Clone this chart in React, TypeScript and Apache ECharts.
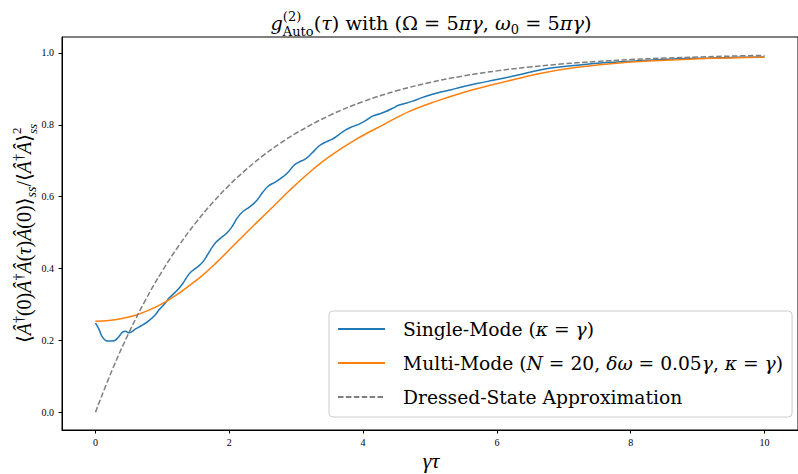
import React, { useEffect, useRef } from 'react';
import * as echarts from 'echarts';

const FONT = '"Liberation Serif", "DejaVu Serif", serif';
const WIDE_FONT = '"DejaVu Serif", "Liberation Serif", serif';

// ---- data ----
const singleTau = [0, 0.05, 0.1, 0.15, 0.2, 0.28, 0.35, 0.4, 0.45, 0.5, 0.55, 0.6, 0.7, 0.8, 0.9, 0.95, 1.05, 1.1, 1.2, 1.3, 1.4, 1.47, 1.55, 1.62, 1.72, 1.8, 1.88, 1.96, 2.04, 2.12, 2.2, 2.3, 2.4, 2.5, 2.58, 2.68, 2.78, 2.88, 2.96, 3.04, 3.14, 3.24, 3.34, 3.44, 3.54, 3.64, 3.74, 3.84, 3.94, 4.04, 4.14, 4.24, 4.34, 4.44, 4.54, 4.64, 4.74, 4.87, 5.0, 5.12, 5.3, 5.47, 5.7, 6.0, 6.3, 6.7, 7.2, 7.7, 8.2, 8.7, 9.2, 9.6, 10];
const singleVals = [0.248, 0.232, 0.21, 0.2, 0.198, 0.199, 0.21, 0.222, 0.225, 0.221, 0.225, 0.232, 0.242, 0.255, 0.272, 0.285, 0.305, 0.318, 0.335, 0.357, 0.385, 0.397, 0.408, 0.422, 0.452, 0.473, 0.486, 0.498, 0.516, 0.541, 0.558, 0.571, 0.587, 0.612, 0.629, 0.64, 0.652, 0.668, 0.686, 0.696, 0.705, 0.722, 0.741, 0.752, 0.76, 0.773, 0.786, 0.795, 0.802, 0.812, 0.824, 0.83, 0.837, 0.846, 0.855, 0.86, 0.866, 0.875, 0.883, 0.889, 0.897, 0.905, 0.915, 0.926, 0.938, 0.955, 0.966, 0.974, 0.979, 0.984, 0.986, 0.988, 0.989];

const multiTau = [0, 0.2, 0.4, 0.6, 0.8, 1.0, 1.2, 1.4, 1.6, 1.8, 2.0, 2.3, 2.6, 2.9, 3.2, 3.5, 3.9, 4.3, 4.7, 5.1, 5.5, 5.9, 6.3, 6.7, 7.2, 7.7, 8.2, 8.7, 9.2, 9.6, 10];
const multiVals = [0.253, 0.255, 0.261, 0.27, 0.284, 0.302, 0.325, 0.352, 0.381, 0.415, 0.452, 0.508, 0.562, 0.617, 0.668, 0.712, 0.76, 0.8, 0.838, 0.866, 0.89, 0.91, 0.928, 0.945, 0.96, 0.97, 0.977, 0.981, 0.985, 0.987, 0.988];

const dressedTau = [0, 0.25, 0.5, 0.75, 1, 1.25, 1.5, 1.75, 2, 2.25, 2.5, 2.75, 3, 3.5, 4, 4.5, 5, 5.5, 6, 6.5, 7, 7.5, 8, 8.5, 9, 9.5, 10];
const dressedVals = [0, 0.1175, 0.2212, 0.3127, 0.3935, 0.4647, 0.5276, 0.5831, 0.6321, 0.6753, 0.7135, 0.7472, 0.7769, 0.8262, 0.8647, 0.8946, 0.9179, 0.9361, 0.9502, 0.9612, 0.9698, 0.9765, 0.9817, 0.9857, 0.9889, 0.9913, 0.9933];

const xTicks = [0, 2, 4, 6, 8, 10];
const yTicks = [0, 0.2, 0.4, 0.6, 0.8, 1.0];

const seriesNames = [
  'Single-Mode (κ = γ)',
  'Multi-Mode (N = 20, δω = 0.05γ, κ = γ)',
  'Dressed-State Approximation',
];
const legendRich: Record<string, string> = {
  [seriesNames[0]]: 'Single-Mode ({i|κ} = {i|γ})',
  [seriesNames[1]]: 'Multi-Mode ({i|N} = 20, {i|δω} = 0.05{i|γ}, {i|κ} = {i|γ})',
  [seriesNames[2]]: 'Dressed-State Approximation',
};

type Seg = { t: string; s: number; dy?: number; it?: boolean; stack?: boolean };

let measureCtx: CanvasRenderingContext2D | null = null;
function textWidth(t: string, size: number, family: string, italic?: boolean) {
  if (!measureCtx) {
    const c = document.createElement('canvas');
    measureCtx = c.getContext('2d');
  }
  if (!measureCtx) return t.length * size * 0.55;
  measureCtx.font = `${italic ? 'italic ' : ''}${size}px ${family}`;
  return measureCtx.measureText(t).width;
}

function layoutMath(segs: Seg[], color: string, family: string) {
  const children: any[] = [];
  let x = 0;
  let prevStart = 0;
  for (const seg of segs) {
    const w = textWidth(seg.t, seg.s, family, seg.it);
    const sx = seg.stack ? prevStart : x;
    children.push({
      type: 'text',
      x: sx,
      y: (seg.dy || 0) - 0.34 * seg.s,
      style: {
        text: seg.t,
        fontSize: seg.s,
        fontFamily: family,
        fontStyle: seg.it ? 'italic' : 'normal',
        fill: color,
        align: 'left',
        verticalAlign: 'middle',
      },
    });
    if (seg.stack) {
      x = Math.max(x, sx + w);
    } else {
      prevStart = sx;
      x = sx + w;
    }
  }
  return { children, width: x };
}

const titleSegs: Seg[] = [
  { t: 'g', s: 19.3, it: true },
  { t: '(2)', s: 13, dy: -9 },
  { t: 'Auto', s: 13, dy: 6, stack: true },
  { t: '(', s: 19.3 },
  { t: 'τ', s: 19.3, it: true },
  { t: ') with (Ω = 5', s: 19.3 },
  { t: 'πγ', s: 19.3, it: true },
  { t: ', ', s: 19.3 },
  { t: 'ω', s: 19.3, it: true },
  { t: '0', s: 13, dy: 4 },
  { t: ' = 5', s: 19.3 },
  { t: 'πγ', s: 19.3, it: true },
  { t: ')', s: 19.3 },
];

const ylabSegs: Seg[] = [
  { t: '⟨', s: 20 },
  { t: 'Â', s: 20, it: true },
  { t: '†', s: 14, dy: -8 },
  { t: '(0)', s: 20 },
  { t: 'Â', s: 20, it: true },
  { t: '†', s: 14, dy: -8 },
  { t: 'Â', s: 20, it: true },
  { t: '(', s: 20 },
  { t: 'τ', s: 20, it: true },
  { t: ')', s: 20 },
  { t: 'Â', s: 20, it: true },
  { t: '(0)', s: 20 },
  { t: '⟩', s: 20 },
  { t: 'ss', s: 14, dy: 5, it: true },
  { t: '/', s: 20 },
  { t: '⟨', s: 20 },
  { t: 'Â', s: 20, it: true },
  { t: '†', s: 14, dy: -8 },
  { t: 'Â', s: 20, it: true },
  { t: '⟩', s: 20 },
  { t: '2', s: 13, dy: -10 },
  { t: 'ss', s: 13, dy: 6, it: true, stack: true },
];

function zip(xs: number[], ys: number[]) {
  return xs.map((x, i) => [x, ys[i]]);
}

export default function App() {
  const ref = useRef<HTMLDivElement>(null);
  useEffect(() => {
    const chart = echarts.init(ref.current!, null, { renderer: 'svg' });
    const title = layoutMath(titleSegs, '#000', WIDE_FONT);
    const ylab = layoutMath(ylabSegs, '#000', FONT);
    const gridLeft = 62;
    const gridTop = 37;
    const gridW = 739;
    const gridH = 393;
    const plotCx = 431;
    const plotCy = gridTop + gridH / 2;

    const option: any = {
      animation: false,
      backgroundColor: '#fff',
      grid: {
        left: gridLeft,
        top: gridTop,
        width: gridW,
        height: gridH,
        show: true,
        borderColor: '#000',
        borderWidth: 1,
        backgroundColor: 'transparent',
      },
      xAxis: {
        type: 'value',
        min: -0.5,
        max: 10.5,
        axisLine: { show: true, onZero: false, lineStyle: { color: '#000', width: 1 } },
        splitLine: { show: false },
        axisTick: { show: true, inside: false, length: 3.5, customValues: xTicks, lineStyle: { color: '#000' } },
        axisLabel: {
          customValues: xTicks,
          formatter: (v: number) => String(Math.round(v)),
          fontFamily: FONT,
          fontSize: 10,
          color: '#000',
          margin: 7,
        },
      },
      yAxis: {
        type: 'value',
        min: -0.0497,
        max: 1.0445,
        axisLine: { show: true, onZero: false, lineStyle: { color: '#000', width: 1 } },
        splitLine: { show: false },
        axisTick: { show: true, inside: false, length: 3.5, customValues: yTicks, lineStyle: { color: '#000' } },
        axisLabel: {
          customValues: yTicks,
          formatter: (v: number) => v.toFixed(1),
          fontFamily: FONT,
          fontSize: 10,
          color: '#000',
          margin: 8,
        },
      },
      legend: {
        orient: 'vertical',
        left: 329,
        top: 311,
        padding: [6, 9, 8, 8],
        itemGap: 10,
        itemWidth: 47,
        itemHeight: 14,
        itemStyle: { opacity: 0 },
        backgroundColor: 'rgba(255,255,255,0.8)',
        borderColor: '#cccccc',
        borderWidth: 1,
        borderRadius: 4,
        data: seriesNames,
        formatter: (name: string) => legendRich[name] || name,
        textStyle: {
          fontFamily: WIDE_FONT,
          fontSize: 18.7,
          color: '#000',
          lineHeight: 24,
          padding: [0, 0, 0, 13],
          rich: {
            i: { fontFamily: WIDE_FONT, fontSize: 18.7, fontStyle: 'italic', color: '#000', lineHeight: 24 },
          },
        },
      },
      series: [
        {
          name: seriesNames[0],
          type: 'line',
          data: zip(singleTau, singleVals),
          showSymbol: false,
          symbol: 'none',
          smooth: 0.4,
          lineStyle: { color: '#1f77b4', width: 1.5 },
          itemStyle: { color: '#1f77b4' },
        },
        {
          name: seriesNames[1],
          type: 'line',
          data: zip(multiTau, multiVals),
          showSymbol: false,
          symbol: 'none',
          smooth: 0.4,
          lineStyle: { color: '#ff7f0e', width: 1.5 },
          itemStyle: { color: '#ff7f0e' },
        },
        {
          name: seriesNames[2],
          type: 'line',
          data: zip(dressedTau, dressedVals),
          showSymbol: false,
          symbol: 'none',
          smooth: 0.4,
          lineStyle: { color: '#7f7f7f', width: 1.5, type: [5.5, 2.4] },
          itemStyle: { color: '#7f7f7f' },
        },
      ],
      graphic: [
        {
          type: 'group',
          x: plotCx - title.width / 2,
          y: 30,
          children: title.children,
        },
        {
          type: 'group',
          x: 31,
          y: plotCy + ylab.width / 2,
          rotation: Math.PI / 2,
          children: ylab.children,
        },
        {
          type: 'text',
          x: plotCx,
          y: 460,
          style: {
            text: 'γτ',
            fontSize: 22,
            fontFamily: FONT,
            fontStyle: 'italic',
            fill: '#000',
            align: 'center',
            verticalAlign: 'middle',
          },
        },
      ],
    };
    chart.setOption(option);
    return () => chart.dispose();
  }, []);
  return <div ref={ref} style={{ position: 'fixed', left: 0, top: 0, width: 798, height: 474 }} />;
}
